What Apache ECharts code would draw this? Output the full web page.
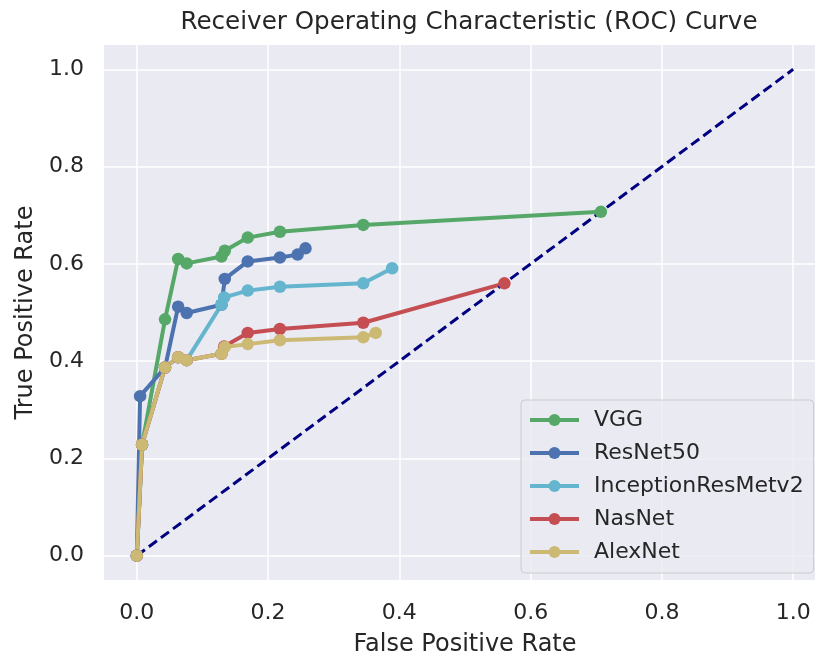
<!DOCTYPE html>
<html>
<head>
<meta charset="utf-8">
<script src="https://cdn.jsdelivr.net/npm/echarts@6/dist/echarts.min.js"></script>
<style>
  html, body { margin: 0; padding: 0; background: #fff; }
  #chart { width: 815px; height: 654px; }
</style>
</head>
<body>
<div id="chart"></div>
<script>
// ROC points, [fpr, tpr]
const vgg = [[0, 0], [0.008, 0.228], [0.043, 0.486], [0.063, 0.610], [0.076, 0.601], [0.129, 0.615],
  [0.134, 0.627], [0.169, 0.654], [0.218, 0.666], [0.345, 0.680], [0.707, 0.707]];
const resnet50 = [[0, 0], [0.005, 0.328], [0.043, 0.387], [0.063, 0.512], [0.076, 0.499], [0.129, 0.516],
  [0.134, 0.569], [0.169, 0.605], [0.218, 0.613], [0.245, 0.619], [0.257, 0.632]];
const inception = [[0, 0], [0.008, 0.228], [0.043, 0.387], [0.063, 0.408], [0.076, 0.402], [0.129, 0.516],
  [0.133, 0.531], [0.169, 0.545], [0.218, 0.553], [0.345, 0.560], [0.389, 0.591]];
const nasnet = [[0, 0], [0.008, 0.228], [0.043, 0.387], [0.063, 0.408], [0.076, 0.402], [0.129, 0.415],
  [0.133, 0.430], [0.169, 0.458], [0.218, 0.466], [0.345, 0.479], [0.560, 0.560]];
const alexnet = [[0, 0], [0.008, 0.228], [0.043, 0.387], [0.063, 0.408], [0.076, 0.402], [0.129, 0.415],
  [0.134, 0.429], [0.169, 0.435], [0.218, 0.443], [0.345, 0.449], [0.364, 0.458]];
const chance = [[0, 0], [1, 1]];

const seriesNames = ['VGG', 'ResNet50', 'InceptionResMetv2', 'NasNet', 'AlexNet'];
const seriesData = [vgg, resnet50, inception, nasnet, alexnet];
const colors = ['#55A868', '#4C72B0', '#64B5CD', '#C44E52', '#CCB974'];
const tickValues = [0, 0.2, 0.4, 0.6, 0.8, 1.0];

const font = 'DejaVu Sans';
const textColor = '#262626';

const chart = echarts.init(document.getElementById('chart'));

const axisCommon = {
  type: 'value',
  min: -0.05,
  max: 1.05,
  nameLocation: 'middle',
  nameTextStyle: { fontFamily: font, fontSize: 24, color: textColor },
  axisLine: { show: false },
  axisTick: { show: false, customValues: tickValues },
  axisLabel: {
    customValues: tickValues,
    fontFamily: font, fontSize: 22, color: textColor,
    formatter: v => v.toFixed(1)
  },
  splitLine: { show: true, lineStyle: { color: '#ffffff', width: 1.5 } }
};

const series = seriesNames.map((name, i) => ({
  name: name,
  type: 'line',
  data: seriesData[i],
  color: colors[i],
  symbol: 'circle',
  symbolSize: 12.5,
  showSymbol: true,
  clip: false,
  lineStyle: { width: 4, color: colors[i] },
  itemStyle: { color: colors[i] },
  emphasis: { disabled: true }
}));

series.push({
  name: 'chance',
  type: 'line',
  data: chance,
  symbol: 'none',
  clip: false,
  lineStyle: { color: '#000080', width: 3, type: [10, 5] },
  emphasis: { disabled: true },
  z: 3
});

chart.setOption({
  animation: false,
  backgroundColor: '#ffffff',
  title: {
    text: 'Receiver Operating Characteristic (ROC) Curve',
    left: 464,
    textAlign: 'center',
    top: 5,
    textStyle: { fontFamily: font, fontSize: 24.6, fontWeight: 'normal', color: textColor }
  },
  grid: {
    left: 104, top: 45, width: 722, height: 535,
    outerBoundsMode: 'none',
    containLabel: false,
    show: true, backgroundColor: '#EAEAF2', borderWidth: 0
  },
  xAxis: Object.assign({}, axisCommon, {
    name: 'False Positive Rate',
    nameGap: 53,
    axisLabel: Object.assign({}, axisCommon.axisLabel, { margin: 22 })
  }),
  yAxis: Object.assign({}, axisCommon, {
    name: 'True Positive Rate',
    nameGap: 66,
    axisLabel: Object.assign({}, axisCommon.axisLabel, { margin: 20 })
  }),
  legend: {
    data: seriesNames,
    orient: 'vertical',
    left: 521,
    top: 400,
    padding: [9, 10, 10, 7],
    itemWidth: 49,
    itemHeight: 15,
    itemGap: 11,
    backgroundColor: 'rgba(234,234,242,0.8)',
    borderColor: '#cccccc',
    borderWidth: 1,
    borderRadius: 4,
    lineStyle: { width: 4 },
    textStyle: { fontFamily: font, fontSize: 22, color: textColor, padding: [0, 0, 0, 10], lineHeight: 22 }
  },
  series: series
});
</script>
</body>
</html>
